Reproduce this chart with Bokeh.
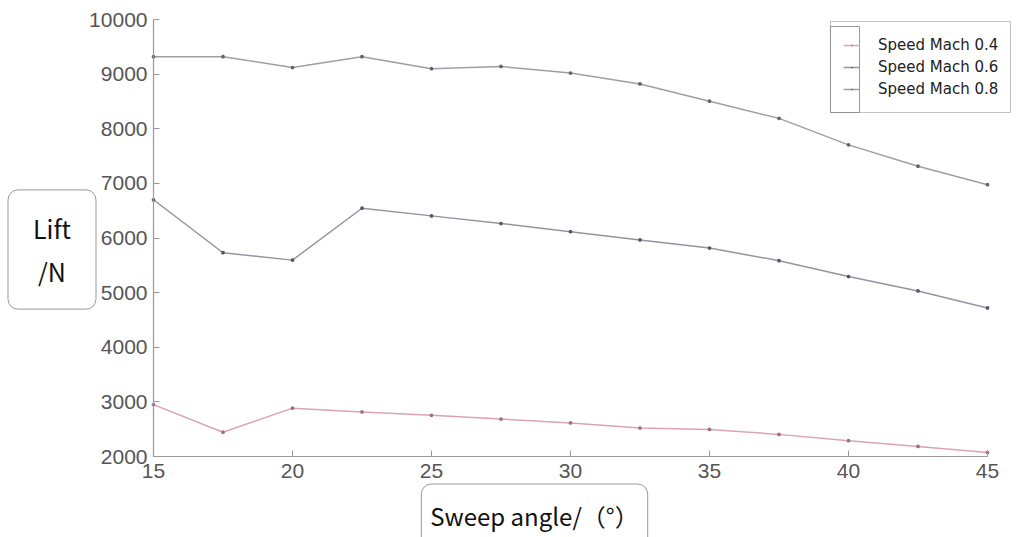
from bokeh.plotting import figure
from bokeh.models import Range1d, Legend, LegendItem, Label, BoxAnnotation, FixedTicker, LinearAxis
from bokeh.embed import file_html
from bokeh.resources import INLINE

sweep = [15, 17.5, 20, 22.5, 25, 27.5, 30, 32.5, 35, 37.5, 40, 42.5, 45]
mach04 = [2950, 2445, 2885, 2815, 2755, 2685, 2615, 2520, 2495, 2405, 2290, 2185, 2075]
mach06 = [6700, 5730, 5595, 6545, 6405, 6265, 6115, 5965, 5815, 5585, 5295, 5030, 4720]
mach08 = [9320, 9320, 9120, 9320, 9100, 9140, 9020, 8820, 8505, 8190, 7705, 7315, 6975]
series_names = ["Speed Mach 0.4", "Speed Mach 0.6", "Speed Mach 0.8"]
y_ticks = [2000, 3000, 4000, 5000, 6000, 7000, 8000, 9000, 10000]
x_ticks = [15, 20, 25, 30, 35, 40, 45]

W, H = 1020, 537
X0, X1, Y0, Y1 = 15, 45, 2000, 10000
AL, AR, AT, AB = 153, 987, 19, 456  # axis box edges in canvas px
sx = (X1 - X0) / (AR - AL)
sy = (Y1 - Y0) / (AB - AT)

def px_x(px):
    return X0 + (px - AL) * sx

def px_y(py):
    return Y0 + (AB - py) * sy

p = figure(width=W, height=H, output_backend="svg", toolbar_location=None,
           x_range=Range1d(px_x(0), px_x(W)), y_range=Range1d(px_y(H), px_y(0)),
           x_axis_location=None, y_axis_location=None, min_border=0)
p.background_fill_color = "white"
p.border_fill_color = "white"
p.outline_line_color = None
p.grid.visible = False

xaxis = LinearAxis(fixed_location=Y0, bounds=(X0, X1), ticker=FixedTicker(ticks=x_ticks))
yaxis = LinearAxis(fixed_location=X0, bounds=(Y0, Y1), ticker=FixedTicker(ticks=y_ticks))
for ax in (xaxis, yaxis):
    ax.axis_line_color = "#9a9a9a"
    ax.axis_line_width = 1.2
    ax.major_tick_in = 6
    ax.major_tick_out = 0
    ax.major_tick_line_color = "#9a9a9a"
    ax.minor_tick_line_color = None
    ax.major_label_text_font = "Liberation Sans"
    ax.major_label_text_font_size = "21px"
    ax.major_label_text_color = "#555555"
yaxis.major_label_standoff = 6
xaxis.major_label_standoff = 7
p.add_layout(xaxis, "below")
p.add_layout(yaxis, "left")

colors_line = ["#dba3b6", "#9494a6", "#9e9eaa"]
colors_dot = ["#a0707f", "#55556a", "#60606e"]
items = []
for name, ys, cl, cd in zip(series_names, [mach04, mach06, mach08], colors_line, colors_dot):
    r1 = p.line(sweep, ys, line_color=cl, line_width=1.5)
    r2 = p.scatter(sweep, ys, size=15, color=cd, marker="dot")
    items.append(LegendItem(label=name, renderers=[r1, r2]))

# glyph column frame of the legend
p.add_layout(BoxAnnotation(left=px_x(830), right=px_x(859), bottom=px_y(112), top=px_y(26),
                           fill_alpha=0, line_color="#9a9a9a", line_alpha=1.0,
                           line_width=1.0))

legend = Legend(items=items, location=(830, H - 113),
                border_line_color="#888888", border_line_width=1.2,
                background_fill_color=None,
                padding=12, spacing=0, glyph_width=17, glyph_height=22, label_height=22,
                label_standoff=18, label_text_font="DejaVu Sans", label_text_font_size="15px",
                label_text_color="#222222", margin=0)
p.add_layout(legend, "center")

ylab = Label(x=px_x(51.5), y=px_y(249), text="Lift\n/N",
             text_align="center", text_baseline="middle", text_font="Noto Sans CJK SC",
             text_font_size="25px", text_color="#111111",
             border_line_color="#999999", border_line_width=1, border_radius=10,
             background_fill_color="white", padding=(25, 20))
p.add_layout(ylab)

xlab = Label(x=px_x(534), y=px_y(515), text="Sweep angle/（°）",
             text_align="center", text_baseline="middle", text_font="Noto Sans CJK SC",
             text_font_size="24px", text_color="#111111",
             border_line_color="#999999", border_line_width=1, border_radius=10,
             background_fill_color="white", padding=(9, 14))
p.add_layout(xlab)

open("out.html", "w").write(file_html(p, INLINE))
